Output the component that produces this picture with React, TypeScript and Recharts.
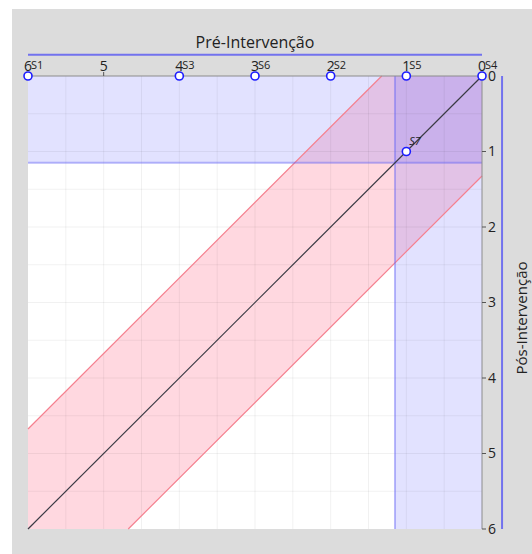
import React from "react";
import {
  ComposedChart, XAxis, YAxis, Area, Line, Scatter, ReferenceArea, ReferenceLine,
} from "recharts";

// subjects: pre-intervention (x) vs post-intervention (y)
const subjectNames = ["S1", "S3", "S6", "S2", "S5", "S4", "S7"];
const preValues = [6, 4, 3, 2, 1, 0, 1];
const postValues = [0, 0, 0, 0, 0, 0, 1];

const axisTicks = [0, 1, 2, 3, 4, 5, 6];
const gridValues = [0.5, 1, 1.5, 2, 2.5, 3, 3.5, 4, 4.5, 5, 5.5];

// identity line
const diagX = [0, 6];
const diagY = [0, 6];

// tolerance band around the identity line (clipped to the plot square)
const bandX = [0, 1.325, 4.675, 6];
const bandLow = [0, 0, 3.35, 4.675];
const bandHigh = [1.325, 2.65, 6, 6];
const upperEdgeX = [1.325, 6];
const upperEdgeY = [0, 4.675];
const lowerEdgeX = [0, 4.675];
const lowerEdgeY = [1.325, 6];

// cut-off zones
const preCut = 1.15;
const postCut = 1.15;

const points = subjectNames.map((name, i) => ({ name, x: preValues[i], y: postValues[i] }));
const bandData = bandX.map((x, i) => ({ x, band: [bandLow[i], bandHigh[i]] }));
const diagData = diagX.map((x, i) => ({ x, y: diagY[i] }));
const upperEdge = upperEdgeX.map((x, i) => ({ x, y: upperEdgeY[i] }));
const lowerEdge = lowerEdgeX.map((x, i) => ({ x, y: lowerEdgeY[i] }));

const FONT = "'Open Sans', 'Noto Sans', sans-serif";
const BLUE_FILL = "rgba(110,110,255,0.2)";
const BLUE_EDGE = "rgba(100,100,245,0.45)";
const RED_EDGE = "#f5808f";

const PointShape = (props: any) => {
  const { cx, cy, payload } = props;
  return (
    <g>
      <circle cx={cx} cy={cy} r={4} fill="#fff" stroke="#1c1cff" strokeWidth={1.6} />
      <text x={cx + 3} y={cy - 7} fontSize={11} fill="#222" fontFamily={FONT}
        fontStyle={payload.y > 0 ? "italic" : "normal"}>
        {payload.name}
      </text>
    </g>
  );
};

export default function App() {
  return (
    <div style={{ position: "absolute", left: 0, top: 0, width: 532, height: 554, background: "#fff", fontFamily: FONT }}>
      <div style={{ position: "absolute", left: 12, top: 9, width: 520, height: 545, background: "#dcdcdc" }} />
      <div style={{ position: "absolute", left: 0, top: 31, width: 510, textAlign: "center", fontSize: 16, color: "#222" }}>
        Pré-Intervenção
      </div>
      <div style={{
        position: "absolute", left: 521, top: 318, fontSize: 15, lineHeight: "18px", color: "#222", whiteSpace: "nowrap",
        transform: "translate(-50%, -50%) rotate(-90deg)",
      }}>
        Pós-Intervenção
      </div>
      <div style={{ position: "absolute", left: 0, top: 0 }}>
        <ComposedChart width={532} height={554} margin={{ top: 56, right: 26, bottom: 25, left: 28 }}>
          <XAxis type="number" dataKey="x" orientation="top" reversed domain={[0, 6]} ticks={axisTicks}
            interval={0} height={20} tickSize={4} tickMargin={1}
            tick={{ fontSize: 14, fill: "#222", fontFamily: FONT }}
            axisLine={{ stroke: "#8c8c8c" }} tickLine={{ stroke: "#555" }} />
          <YAxis type="number" dataKey="y" orientation="right" reversed domain={[0, 6]} ticks={axisTicks}
            interval={0} width={24} tickSize={4} tickMargin={2}
            tick={{ fontSize: 14, fill: "#222", fontFamily: FONT }}
            axisLine={{ stroke: "#8c8c8c" }} tickLine={{ stroke: "#555" }} />

          <ReferenceArea x1={0} x2={6} y1={0} y2={6} fill="#fff" fillOpacity={1} stroke="none" />
          {gridValues.map((v) => (
            <ReferenceLine key={`gx${v}`} x={v} stroke="rgba(0,0,0,0.055)" />
          ))}
          {gridValues.map((v) => (
            <ReferenceLine key={`gy${v}`} y={v} stroke="rgba(0,0,0,0.055)" />
          ))}

          <Area data={bandData} dataKey="band" type="linear" fill="rgba(255,100,130,0.25)" fillOpacity={1}
            stroke="none" isAnimationActive={false} activeDot={false} />
          <Line data={upperEdge} dataKey="y" type="linear" stroke={RED_EDGE} strokeWidth={1.2} dot={false}
            activeDot={false} isAnimationActive={false} />
          <Line data={lowerEdge} dataKey="y" type="linear" stroke={RED_EDGE} strokeWidth={1.2} dot={false}
            activeDot={false} isAnimationActive={false} />

          <ReferenceArea x1={0} x2={6} y1={0} y2={postCut} fill={BLUE_FILL} fillOpacity={1} stroke="none" />
          <ReferenceArea x1={0} x2={preCut} y1={0} y2={6} fill={BLUE_FILL} fillOpacity={1} stroke="none" />
          <ReferenceLine y={postCut} stroke={BLUE_EDGE} strokeWidth={2} />
          <ReferenceLine x={preCut} stroke={BLUE_EDGE} strokeWidth={2} />

          <ReferenceLine y={-0.28} ifOverflow="visible" stroke="#7272ee" strokeWidth={2} />
          <ReferenceLine x={-0.265} ifOverflow="visible" stroke="#7272ee" strokeWidth={2} />

          <Line data={diagData} dataKey="y" type="linear" stroke="#3a3a44" strokeWidth={1.2} dot={false}
            activeDot={false} isAnimationActive={false} />
          <Scatter data={points} dataKey="y" shape={<PointShape />} isAnimationActive={false} />
        </ComposedChart>
      </div>
    </div>
  );
}
